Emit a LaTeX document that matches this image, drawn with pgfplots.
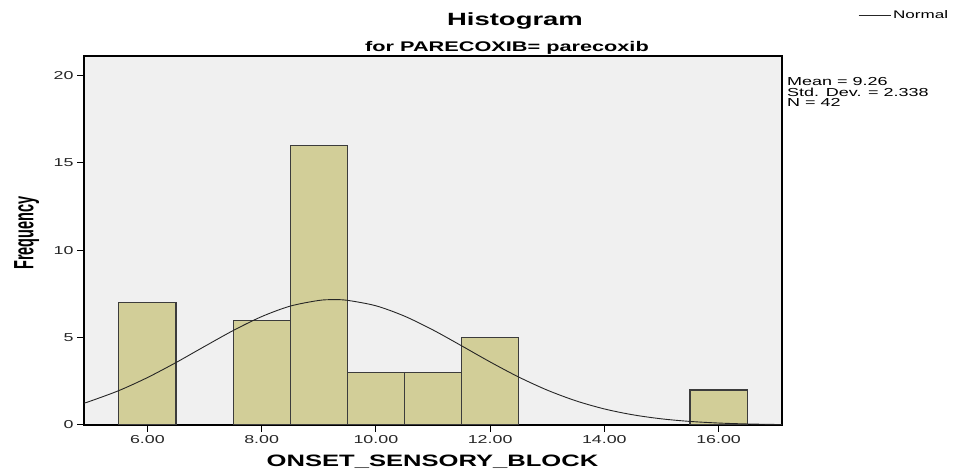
\documentclass[border=0pt]{standalone}
\usepackage{pgfplots}
\pgfplotsset{compat=1.18}
\usepackage{fontspec}
\setmainfont{Liberation Sans}[FakeStretch=1.55]
\newfontfamily\ylabfont{Liberation Sans}[FakeStretch=0.52]
\definecolor{barfill}{HTML}{D2CE98}
\definecolor{plotbg}{HTML}{F0F0F0}
\definecolor{baredge}{HTML}{3C3C3C}

% histogram counts (bin centre, frequency)
\pgfplotstableread{
x   n
6   7
8   6
9   16
10  3
11  3
12  5
16  2
}\histdata

\begin{document}
\begin{tikzpicture}
\useasboundingbox (0pt,0pt) rectangle (956pt,473pt);
\begin{axis}[
    at={(84pt,48pt)}, anchor=south west,
    scale only axis, width=698pt, height=369pt,
    xmin=4.89, xmax=17.11, ymin=0, ymax=21.1,
    axis background/.style={fill=plotbg},
    axis line style={black, line width=1.2pt},
    xtick={6,8,10,12,14,16}, ytick={0,5,10,15,20},
    tick align=outside, xtick pos=bottom, ytick pos=left,
    major tick length=7pt, tick style={black, line width=1pt},
    /pgf/number format/assume math mode=true,
    x tick label style={/pgf/number format/fixed, /pgf/number format/fixed zerofill, /pgf/number format/precision=2},
    tick label style={font=\fontsize{11.5}{12}\selectfont, text=black!85},
    legend style={at={(1.109,1.111)}, anchor=west, draw=none, fill=none,
        inner sep=0pt, font=\fontsize{11}{11}\selectfont},
    legend cell align=left,
    legend image code/.code={\draw[#1] (0pt,0pt) -- (32pt,0pt);},
]
\addplot[ybar, bar width=1, fill=barfill, draw=baredge, line width=1.1pt, forget plot]
    table[x=x, y=n] {\histdata};
\addplot[black!85, line width=0.9pt, smooth] coordinates {
    (4.89,1.249) (5.0,1.363) (5.5,1.967) (6.0,2.711) (6.5,3.570)
    (7.0,4.492) (7.5,5.398) (8.0,6.198) (8.5,6.798) (9.0,7.122)
    (9.26,7.167) (9.5,7.129) (10.0,6.817) (10.5,6.226) (11.0,5.433)
    (11.5,4.529) (12.0,3.606) (12.5,2.743) (13.0,1.994) (13.5,1.384)
    (14.0,0.918) (14.5,0.582) (15.0,0.352) (15.5,0.204) (16.0,0.112)
    (16.5,0.059) (17.0,0.030) (17.11,0.026)
};
\addlegendentry{Normal}
\end{axis}
\node[anchor=base, inner sep=0pt, font=\bfseries\fontsize{17.7}{18}\selectfont] at (515pt,447pt) {Histogram};
\node[anchor=base, inner sep=0pt, font=\bfseries\fontsize{14}{14}\selectfont] at (507pt,421.3pt) {for PARECOXIB= parecoxib};
\node[anchor=base, inner sep=0pt, font=\bfseries\fontsize{16.5}{17}\selectfont] at (432.5pt,6.3pt) {ONSET\_SENSORY\_BLOCK};
\node[anchor=base, rotate=90, inner sep=0pt, font=\ylabfont\bfseries\fontsize{27.9}{28}\selectfont] at (33.3pt,240pt) {Frequency};
\begin{scope}[every node/.style={anchor=base west, inner sep=0pt, font=\fontsize{11.6}{11.6}\selectfont}]
\node at (787pt,387pt) {Mean = 9.26};
\node at (787pt,376.5pt) {Std. Dev. = 2.338};
\node at (787pt,366.3pt) {N = 42};
\end{scope}
\end{tikzpicture}
\end{document}
